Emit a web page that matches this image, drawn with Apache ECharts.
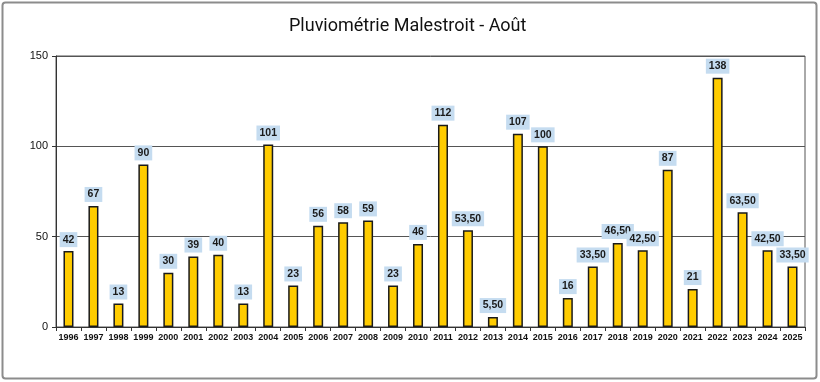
<!DOCTYPE html>
<html><head><meta charset="utf-8">
<script src="https://cdn.jsdelivr.net/npm/echarts@6/dist/echarts.min.js"></script>
<style>html,body{margin:0;padding:0;background:#fff}#c{width:820px;height:382px}</style>
</head><body><div id="c"></div>
<script>
const years = ["1996","1997","1998","1999","2000","2001","2002","2003","2004","2005","2006","2007","2008","2009","2010","2011","2012","2013","2014","2015","2016","2017","2018","2019","2020","2021","2022","2023","2024","2025"];
const rainfall = [42,67,13,90,30,39,40,13,101,23,56,58,59,23,46,112,53.5,5.5,107,100,16,33.5,46.5,42.5,87,21,138,63.5,42.5,33.5];
const yTicks = [0,50,100,150];
const titleText = "Pluviométrie Malestroit - Août";

function fmt(v){ return Number.isInteger(v) ? String(v) : v.toFixed(2).replace('.', ','); }
const ARIAL = '"Liberation Sans", Arial, sans-serif';

const chart = echarts.init(document.getElementById('c'), null, {renderer:'canvas'});
chart.setOption({
  animation:false,
  backgroundColor:'#fff',
  graphic:[{type:'rect', shape:{x:2.5,y:2.5,width:814,height:376,r:3}, style:{fill:'none', stroke:'#8c8c8c', lineWidth:2}, silent:true}],
  title:{text:titleText, left:284, top:12, textStyle:{fontFamily:'"Roboto", sans-serif', fontWeight:'normal', fontSize:18, color:'#111'}},
  grid:{left:56, right:15, top:56, bottom:55, show:true, borderColor:'#555', borderWidth:1},
  xAxis:{type:'category', data:years, axisLine:{lineStyle:{color:'#333'}},
    axisTick:{show:true, alignWithLabel:false, length:4, lineStyle:{color:'#333'}},
    axisLabel:{interval:0, margin:6, fontSize:9, fontWeight:'bold', color:'#111', fontFamily:ARIAL}},
  yAxis:{type:'value', min:yTicks[0], max:yTicks[yTicks.length-1], interval:50,
    axisLine:{show:true, lineStyle:{color:'#333'}}, axisTick:{show:true, length:4, lineStyle:{color:'#333'}},
    splitLine:{lineStyle:{color:'#555', width:1}},
    axisLabel:{fontSize:11, color:'#111', margin:8, fontFamily:ARIAL}},
  series:[{type:'bar', data:rainfall, barWidth:10,
    itemStyle:{color:'#FFCC00', borderColor:'#1a1a1a', borderWidth:1.5},
    label:{show:true, position:'top', distance:4, formatter:p=>fmt(p.value),
      fontSize:10.5, fontWeight:'bold', color:'#1a1a1a', fontFamily:ARIAL,
      backgroundColor:'#C5DCF0', padding:[2,3,2,3]}}]
});
</script></body></html>
